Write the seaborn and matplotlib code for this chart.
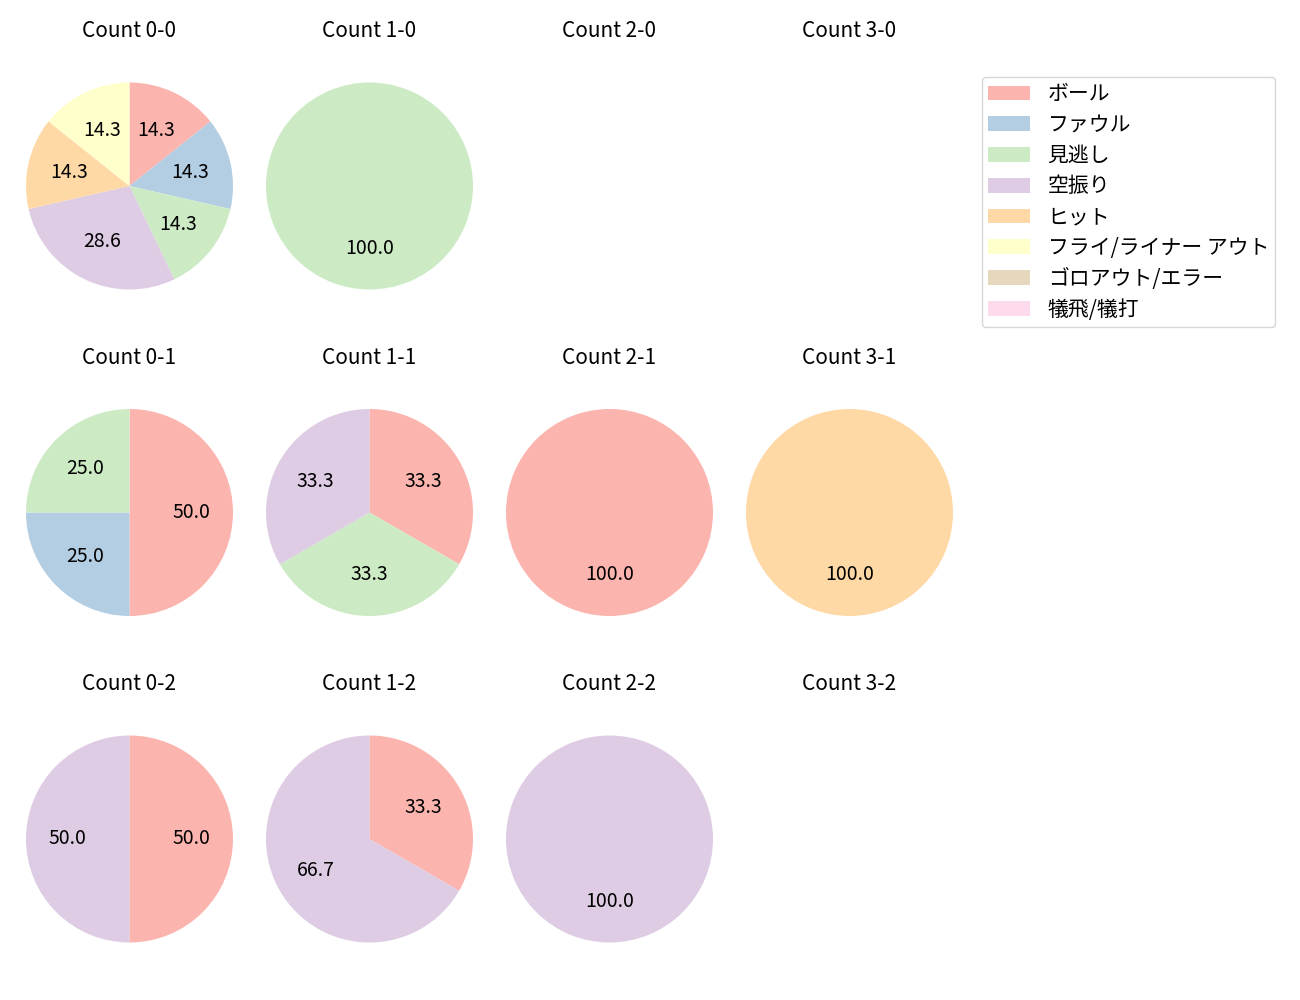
import matplotlib
matplotlib.use("Agg")
import matplotlib.pyplot as plt
import matplotlib.patches as mpatches
import seaborn as sns

sns.set_theme(style="white")
plt.rcParams['font.family'] = ['Noto Sans CJK JP', 'DejaVu Sans']
plt.rcParams['text.color'] = 'black'

categories = ["ボール", "ファウル", "見逃し", "空振り", "ヒット",
              "フライ/ライナー アウト", "ゴロアウト/エラー", "犠飛/犠打"]

# counts per category for each ball-strike count (balls-strikes)
count_00 = [1, 1, 1, 2, 1, 1, 0, 0]
count_10 = [0, 0, 1, 0, 0, 0, 0, 0]
count_20 = [0, 0, 0, 0, 0, 0, 0, 0]
count_30 = [0, 0, 0, 0, 0, 0, 0, 0]
count_01 = [2, 1, 1, 0, 0, 0, 0, 0]
count_11 = [1, 0, 1, 1, 0, 0, 0, 0]
count_21 = [1, 0, 0, 0, 0, 0, 0, 0]
count_31 = [0, 0, 0, 0, 1, 0, 0, 0]
count_02 = [1, 0, 0, 1, 0, 0, 0, 0]
count_12 = [1, 0, 0, 2, 0, 0, 0, 0]
count_22 = [0, 0, 0, 1, 0, 0, 0, 0]
count_32 = [0, 0, 0, 0, 0, 0, 0, 0]

grid = [
    [("0-0", count_00), ("1-0", count_10), ("2-0", count_20), ("3-0", count_30)],
    [("0-1", count_01), ("1-1", count_11), ("2-1", count_21), ("3-1", count_31)],
    [("0-2", count_02), ("1-2", count_12), ("2-2", count_22), ("3-2", count_32)],
]

colors = sns.color_palette("Pastel1", len(categories))

W, H = 1300, 1000
fig = plt.figure(figsize=(13, 10), dpi=100)

R = 103.5
box = 2.5 * R
for i, row in enumerate(grid):
    for j, (name, vals) in enumerate(row):
        cx = 129.5 + 240 * j
        cy = 186 + 326.5 * i
        ax = fig.add_axes([(cx - box / 2) / W, (H - cy - box / 2) / H, box / W, box / H])
        sizes = [v for v in vals if v > 0]
        cols = [colors[k] for k, v in enumerate(vals) if v > 0]
        if sizes:
            ax.pie(sizes, colors=cols, startangle=90, counterclock=False,
                   autopct="%.1f", textprops={"fontsize": 14, "color": "black"},
                   wedgeprops={"linewidth": 0, "edgecolor": "none"})
        ax.set_xlim(-1.25, 1.25)
        ax.set_ylim(-1.25, 1.25)
        ax.set_aspect("equal")
        ax.axis("off")
        ax.set_title(f"Count {name}", fontsize=15, pad=14, color="black")

handles = [mpatches.Patch(facecolor=c, edgecolor="none", label=l) for c, l in zip(colors, categories)]
leg = fig.legend(handles=handles, loc="upper left", bbox_to_anchor=(982 / W, 1 - 77 / H),
                 borderaxespad=0, fontsize=15, frameon=True, labelspacing=0.42,
                 borderpad=0.3, handletextpad=0.85, handlelength=2.0)
for t in leg.get_texts():
    t.set_color("black")

fig.savefig("out.png", dpi=100, facecolor="white")
